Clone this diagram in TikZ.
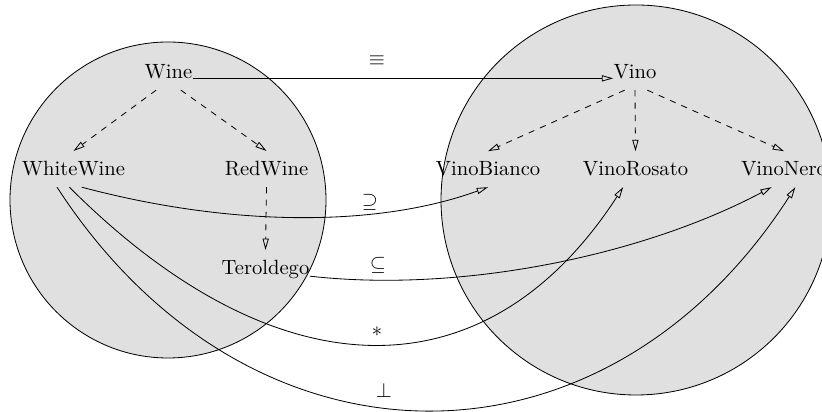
\documentclass[tikz,border=0pt]{standalone}
\usetikzlibrary{arrows.meta}
\definecolor{ontogray}{gray}{0.88}
\tikzset{
  concept/.style={inner xsep=0pt, inner ysep=5pt, anchor=base},
  map/.style={-{Triangle[open,length=5.5pt,width=3pt]}},
  isa/.style={map, dashed},
}
\begin{document}
\begin{tikzpicture}[x=0.485pt,y=0.485pt]
  \useasboundingbox (0,0) rectangle (822,412);
  % ontologies
  \draw[fill=ontogray] (168,212) circle (158);
  \draw[fill=ontogray] (636,212) circle (195);
  % concepts
  \node[concept] (wine)       at (168.5,333) {Wine};
  \node[concept] (whitewine)  at (73.5,236)  {WhiteWine};
  \node[concept] (redwine)    at (266.5,236) {RedWine};
  \node[concept] (teroldego)  at (265.5,137) {Teroldego};
  \node[concept] (vino)       at (635,333)   {Vino};
  \node[concept] (vinobianco) at (488,236)   {VinoBianco};
  \node[concept] (vinorosato) at (635.5,236) {VinoRosato};
  \node[concept] (vinonero)   at (784,236)   {VinoNero};
  % hierarchies
  \draw[isa] ([xshift=-6pt]wine.south) -- (whitewine.north);
  \draw[isa] ([xshift=6pt]wine.south) -- (redwine.north);
  \draw[isa] (redwine.south) -- (teroldego.north);
  \draw[isa] ([xshift=-5pt]vino.south) -- (vinobianco.north);
  \draw[isa] (vino.south) -- (vinorosato.north);
  \draw[isa] ([xshift=6pt]vino.south) -- (vinonero.north);
  % mappings
  \draw[map] ([yshift=-3pt]wine.east) -- ([yshift=-3pt]vino.west);
  \draw[map] ([xshift=4pt]whitewine.south) .. controls +(150,-40) and +(-110,-40) .. (vinobianco.south);
  \draw[map] ([yshift=-3pt]teroldego.east) .. controls +(150,-17) and +(-130,-69) .. ([xshift=-6pt]vinonero.south);
  \draw[map] ([xshift=-2pt]whitewine.south) .. controls +(209,-209) and +(-136,-210) .. ([xshift=-6pt]vinorosato.south);
  \draw[map] ([xshift=-8pt]whitewine.south) .. controls +(192,-296) and +(-192,-298) .. ([xshift=5.5pt]vinonero.south);
  % label mappings
  \node (equiv)  at (377,351) {$\equiv$};
  \node (supset) at (370,210) {$\supseteq$};
  \node (subset) at (378,147) {$\subseteq$};
  \node (star)   at (377,80)  {$*$};
  \node (disj)   at (384,22)  {$\perp$};
\end{tikzpicture}
\end{document}
